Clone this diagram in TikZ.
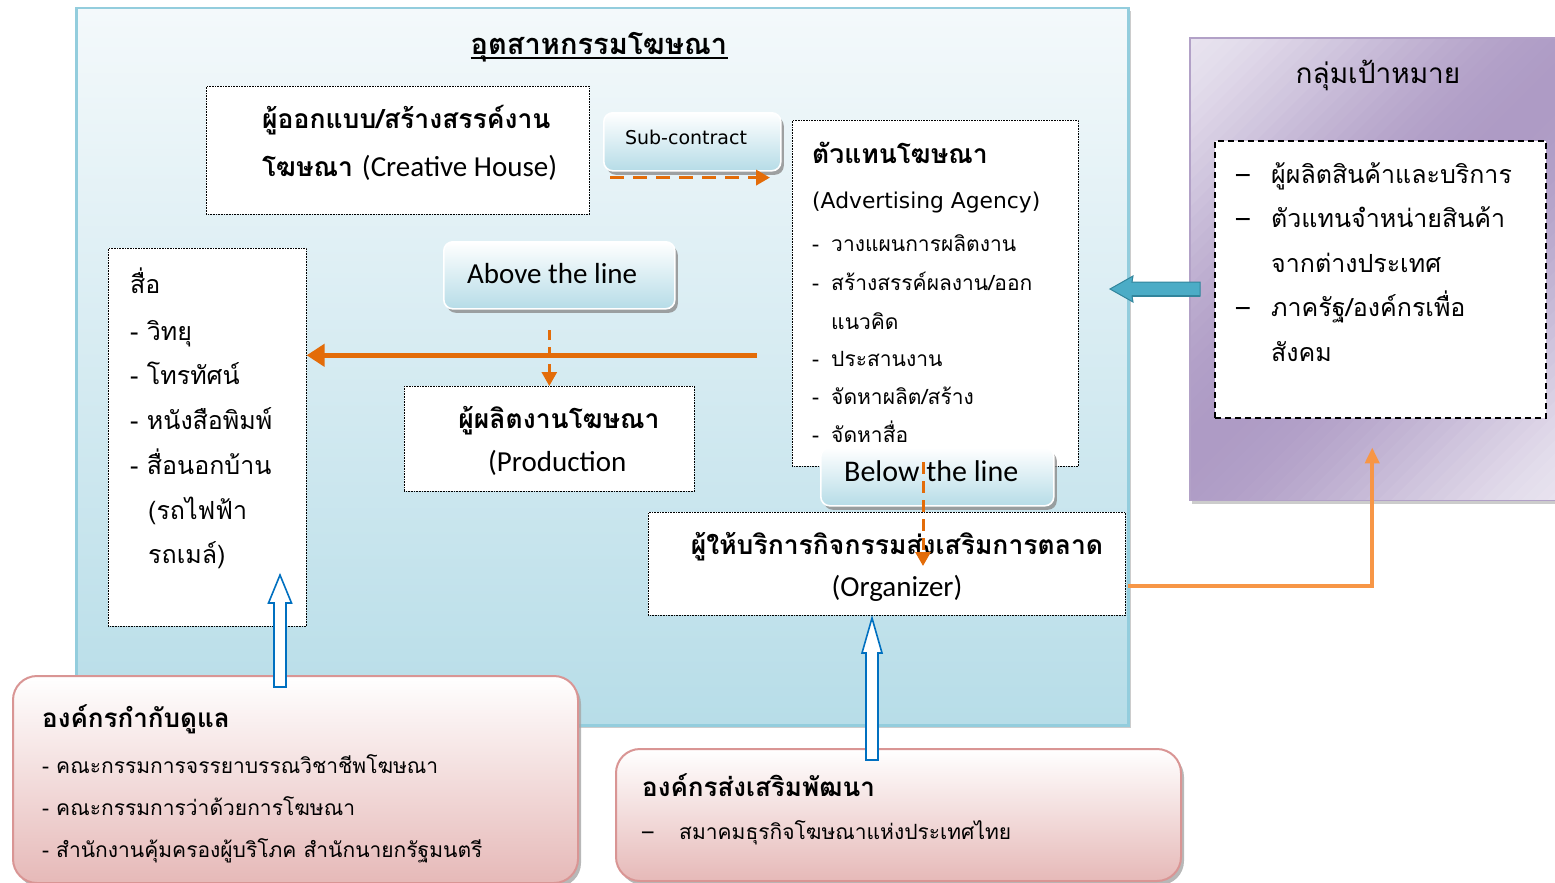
\documentclass[tikz,border=0pt]{standalone}
\usepackage{fontspec}
\setmainfont{Carlito}
\newfontfamily\thaif[Script=Thai]{Loma}
\newfontfamily\tahf{DejaVu Sans}
\usetikzlibrary{arrows.meta,shadows,calc}
\definecolor{panelblue}{HTML}{B7DDE8}
\definecolor{paneltop}{HTML}{F4F9FB}
\definecolor{indborder}{HTML}{93CDDD}
\definecolor{labblue}{HTML}{B6DCE7}
\definecolor{orA}{HTML}{E36C09}
\definecolor{orB}{HTML}{F79646}
\definecolor{purL}{HTML}{E8E3EF}
\definecolor{purD}{HTML}{AE9BC5}
\definecolor{purB}{HTML}{B2A1C7}
\definecolor{pinkB}{HTML}{E6B9B8}
\definecolor{redB}{HTML}{D99594}
\definecolor{tealF}{HTML}{4BACC6}
\definecolor{tealD}{HTML}{31859C}
\definecolor{blueA}{HTML}{0070C0}
\tikzset{
  dotbox/.style={draw=black, densely dotted, line width=0.6pt, fill=white, anchor=north west, inner sep=0},
  labbox/.style={rounded corners=9pt, draw=white, line width=1.6pt, top color=white, bottom color=labblue,
     drop shadow={shadow xshift=3pt, shadow yshift=-4pt, fill=black!45, opacity=0.8}, anchor=north west, inner sep=0},
  redbox/.style={rounded corners=24pt, draw=redB, line width=2pt, top color=white, bottom color=pinkB,
     drop shadow={shadow xshift=3pt, shadow yshift=-4pt, fill=black!35, opacity=0.8}, anchor=north west, inner sep=0},
  txt/.style={anchor=base west, inner sep=0},
  ctxt/.style={anchor=base, inner sep=0},
  oarrow/.style={draw=orA, line width=5.5pt, -{Triangle[length=18pt,width=22pt]}},
  odash/.style={draw=orA, line width=3.5pt, dash pattern=on 14pt off 9pt, -{Triangle[length=14pt,width=15pt]}},
}
\newcommand\TL{\fontsize{25}{30}\selectfont\thaif}
\newcommand\TB{\fontsize{26.5}{30}\selectfont\thaif\bfseries}
\newcommand\TM{\fontsize{21}{26}\selectfont\thaif}
\newcommand\LL{\fontsize{29}{32}\selectfont\rmfamily\mdseries}
\begin{document}
\begin{tikzpicture}[x=1pt,y=-1pt]
\useasboundingbox (0,0) rectangle (1555,883);
% industry panel
\node[anchor=north west, minimum width=1052, minimum height=717, inner sep=0, draw=indborder, line width=2.5pt,
  top color=paneltop, bottom color=panelblue,
  drop shadow={shadow xshift=3pt, shadow yshift=-3pt, fill=black!40}] (ind) at (75,7) {};
\node[ctxt] (title) at (599,55) {\fontsize{29}{30}\selectfont\thaif\bfseries อุตสาหกรรมโฆษณา};
\draw[line width=1.4pt] ($(title.base west)+(0,3)$) -- ($(title.base east)+(0,3)$);
% target group panel
\node[anchor=north west, minimum width=370, minimum height=462, inner sep=0, fill=purL,
  drop shadow={shadow xshift=2pt, shadow yshift=-4pt, fill=black!40}] (tgt) at (1190,38) {};
\begin{scope}
  \clip (tgt.north west) rectangle (tgt.south east);
  \foreach \i in {0,...,63} {
    \pgfmathsetmacro\sa{\i*13}
    \pgfmathsetmacro\sb{\sa+14}
    \pgfmathsetmacro\pp{100*sin(180*(\i+0.5)/64)^1.5}
    \fill[purD!\pp!purL] ($(tgt.north west)+(\sa,0)$) -- ($(tgt.north west)+(\sb,0)$)
      -- ($(tgt.north west)+(\sb-700,700)$) -- ($(tgt.north west)+(\sa-700,700)$) -- cycle;
  }
\end{scope}
\draw[purB, line width=1.5pt] (tgt.north west) rectangle (tgt.south east);
\node[ctxt] (tgtt) at (1378,84) {\fontsize{28}{32}\selectfont\thaif กลุ่มเป้าหมาย};
\node[anchor=north west, minimum width=331, minimum height=277, inner sep=0, draw=black, line width=1.5pt,
  dash pattern=on 6pt off 4pt, fill=white] (tgtbox) at (1214,140) {};
\node[txt] (tg1d) at (1236,183) {\TL –};
\node[txt] (tg1) at (1271,183) {\TL ผู้ผลิตสินค้าและบริการ};
\node[txt] (tg2d) at (1236,227) {\TL –};
\node[txt] (tg2) at (1271,227) {\TL ตัวแทนจำหน่ายสินค้า};
\node[txt] (tg3) at (1271,272) {\TL จากต่างประเทศ};
\node[txt] (tg4d) at (1236,316) {\TL –};
\node[txt] (tg4) at (1271,316) {\TL ภาครัฐ/องค์กรเพื่อ};
\node[txt] (tg5) at (1271,361) {\TL สังคม};
% creative house
\node[dotbox, minimum width=383, minimum height=128] (crea) at (206,86) {};
\node[txt] (crea1) at (262,128) {\TB ผู้ออกแบบ/สร้างสรรค์งาน};
\node[txt] (crea2) at (262,176) {\TB โฆษณา \LL(Creative House)};
% sub-contract
\node[labbox, minimum width=177, minimum height=58] (sub) at (603,112) {};
\node[ctxt] (subt) at (686,144) {\fontsize{19}{22}\selectfont\tahf Sub-contract};
% agency
\node[dotbox, minimum width=286, minimum height=346] (agen) at (792,120) {};
\node[txt] (ag0) at (812,163) {\TB ตัวแทนโฆษณา};
\node[txt] (ag1) at (812,208) {\fontsize{21.8}{26}\selectfont\tahf (Advertising Agency)};
\node[txt] (ag2d) at (812,251) {\TM -};
\node[txt] (ag2) at (831,251) {\TM วางแผนการผลิตงาน};
\node[txt] (ag3d) at (812,290) {\TM -};
\node[txt] (ag3) at (831,290) {\TM สร้างสรรค์ผลงาน/ออก};
\node[txt] (ag4) at (831,329) {\TM แนวคิด};
\node[txt] (ag5d) at (812,366) {\TM -};
\node[txt] (ag5) at (831,366) {\TM ประสานงาน};
\node[txt] (ag6d) at (812,404) {\TM -};
\node[txt] (ag6) at (831,404) {\TM จัดหาผลิต/สร้าง};
\node[txt] (ag7d) at (812,442) {\TM -};
\node[txt] (ag7) at (831,442) {\TM จัดหาสื่อ};
% media
\node[dotbox, minimum width=198, minimum height=378] (media) at (108,248) {};
\node[txt] (m0) at (130,293) {\TL สื่อ};
\node[txt] (m1) at (130,340) {\TL - วิทยุ};
\node[txt] (m2) at (130,384) {\TL - โทรทัศน์};
\node[txt] (m3) at (130,429) {\TL - หนังสือพิมพ์};
\node[txt] (m4) at (130,474) {\TL - สื่อนอกบ้าน};
\node[txt] (m5) at (148,519) {\TL (รถไฟฟ้า};
\node[txt] (m6) at (148,563) {\TL รถเมล์)};
% above the line
\node[labbox, minimum width=231, minimum height=67] (above) at (443,241) {};
\node[txt] (abovet) at (467,283) {\LL Above the line};
% production
\node[dotbox, minimum width=290, minimum height=105] (prod) at (404,386) {};
\node[ctxt] (prod1) at (559,428) {\TB ผู้ผลิตงานโฆษณา};
\node[txt] (prod2) at (488,471) {\LL (Production};
% organizer
\node[dotbox, minimum width=477, minimum height=103] (org) at (648,512) {};
\node[ctxt] (org1) at (897,554) {\TB ผู้ให้บริการกิจกรรมส่งเสริมการตลาด};
\node[ctxt] (org2) at (897,596) {\LL (Organizer)};
% below the line
\node[labbox, minimum width=233, minimum height=58] (below) at (820,447) {};
\node[txt] (belowt) at (844,481) {\fontsize{30}{32}\selectfont Below the line};
% regulators
\node[redbox, minimum width=565, minimum height=207] (reg) at (12,675) {};
\node[txt] (reg0) at (42,727) {\fontsize{26}{30}\selectfont\thaif\bfseries องค์กรกำกับดูแล};
\node[txt] (reg1) at (42,773) {\TM - คณะกรรมการจรรยาบรรณวิชาชีพโฆษณา};
\node[txt] (reg2) at (42,815) {\TM - คณะกรรมการว่าด้วยการโฆษณา};
\node[txt] (reg3) at (42,857) {\TM - สำนักงานคุ้มครองผู้บริโภค สำนักนายกรัฐมนตรี};
% promotion
\node[redbox, minimum width=565, minimum height=132] (prom) at (615,748) {};
\node[txt] (prom0) at (642,796) {\fontsize{26}{30}\selectfont\thaif\bfseries องค์กรส่งเสริมพัฒนา};
\node[txt] (prom1d) at (642,839) {\TM –};
\node[txt] (prom1) at (679,839) {\TM สมาคมธุรกิจโฆษณาแห่งประเทศไทย};
% ---- connectors
\draw[odash] ($(sub.south west)+(7,6)$) -- ($(agen.west |- sub.south)+(-22,6)$);
\coordinate (hstart) at ($(agen.west)+(-35,62)$);
\draw[oarrow] (hstart) -- (hstart -| media.east);
\draw[odash, line width=2.8pt, dash pattern=on 10pt off 7pt] (prod.north |- 0,330) -- (prod.north);
\draw[odash, line width=3pt, dash pattern=on 12pt off 7pt] (923,462) -- (923,566);
\draw[draw=orB, line width=4pt, -{Triangle[length=16pt,width=14pt]}] ($(org.east)+(2,22)$) -| ($(tgt.south)+(-3,-53)$);
% teal block arrow from target group to agency
\filldraw[fill=tealF, draw=tealD, line width=1pt] (1200,282) -- (1132,282) -- (1133,276) -- (1110,289) -- (1133,302) -- (1132,296) -- (1200,296) -- cycle;
\draw[tealD, line width=2.5pt] (1132,296) -- (1200,296);
% hollow blue arrows
\filldraw[fill=white, draw=blueA, line width=1.6pt] (274,687) -- (274,603) -- (268.5,603) -- (280,575) -- (291.5,603) -- (286,603) -- (286,687) -- cycle;
\filldraw[fill=white, draw=blueA, line width=1.6pt] (866,760) -- (866,653) -- (862,653) -- (872,618) -- (882,653) -- (878,653) -- (878,760) -- cycle;
\end{tikzpicture}
\end{document}
